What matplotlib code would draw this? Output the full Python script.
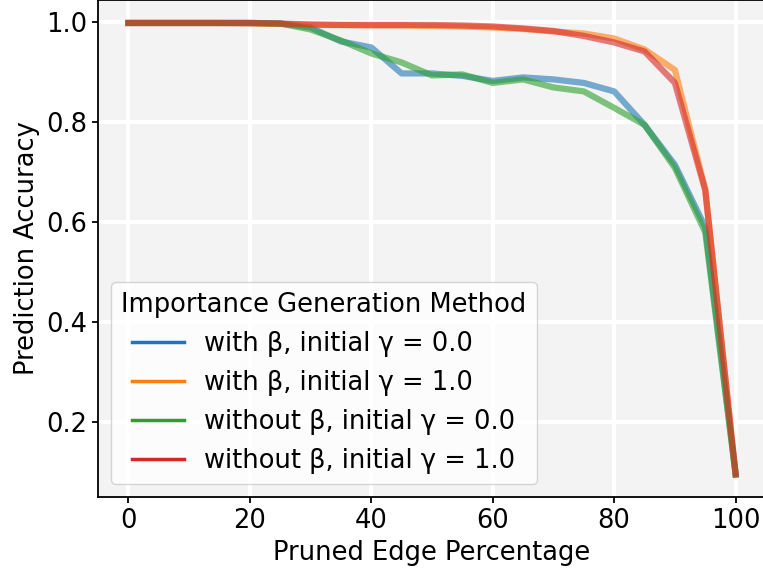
import numpy as np
import matplotlib
matplotlib.use("Agg")
import matplotlib.pyplot as plt
from matplotlib.lines import Line2D

# pruned edge percentage
pruned = [0, 5, 10, 15, 20, 25, 30, 35, 40, 45, 50, 55, 60, 65, 70, 75, 80, 85, 90, 95, 100]

with_b_g0 = [0.999, 0.999, 0.999, 0.999, 0.999, 0.998, 0.990, 0.962, 0.950, 0.898, 0.898, 0.893,
             0.883, 0.890, 0.886, 0.879, 0.862, 0.795, 0.715, 0.590, 0.097]
with_b_g1 = [0.999, 0.999, 0.999, 0.999, 0.998, 0.997, 0.995, 0.995, 0.994, 0.994, 0.993, 0.992,
             0.990, 0.987, 0.982, 0.978, 0.968, 0.946, 0.905, 0.666, 0.095]
without_b_g0 = [0.999, 0.999, 0.999, 0.999, 0.999, 0.998, 0.986, 0.964, 0.938, 0.920, 0.894, 0.896,
                0.879, 0.886, 0.870, 0.862, 0.829, 0.795, 0.709, 0.580, 0.095]
without_b_g1 = [0.999, 0.999, 0.999, 0.999, 0.999, 0.998, 0.996, 0.995, 0.995, 0.995, 0.995, 0.994,
                0.992, 0.988, 0.983, 0.973, 0.960, 0.942, 0.879, 0.664, 0.095]

labels = ["with β, initial γ = 0.0", "with β, initial γ = 1.0",
          "without β, initial γ = 0.0", "without β, initial γ = 1.0"]
colors = ["tab:blue", "tab:orange", "tab:green", "tab:red"]
series = [with_b_g0, with_b_g1, without_b_g0, without_b_g1]

fs = 18.5
fig = plt.figure(figsize=(7.63, 5.73), dpi=100)
ax = fig.add_axes([98 / 763, (573 - 497) / 573, 668 / 763, 497 / 573])
ax.set_facecolor("#f3f3f3")
ax.grid(True, color="white", linewidth=3)
ax.set_axisbelow(True)
for sp in ax.spines.values():
    sp.set_linewidth(1.3)

for s, c in zip(series, colors):
    ax.plot(pruned, s, color=c, linewidth=4.5, alpha=0.6)

ax.set_xlim(-5, 105)
ax.set_ylim(0.05, 1.045)
ax.set_xticks([0, 20, 40, 60, 80, 100])
ax.set_yticks([0.2, 0.4, 0.6, 0.8, 1.0])
ax.tick_params(labelsize=fs, length=4.5, width=1.3)
ax.set_xlabel("Pruned Edge Percentage", fontsize=fs)
ax.set_ylabel("Prediction Accuracy", fontsize=fs)

handles = [Line2D([0], [0], color=c, linewidth=2.5) for c in colors]
ax.legend(handles, labels, title="Importance Generation Method", fontsize=fs,
          title_fontsize=fs, loc="lower left", bbox_to_anchor=(0.0, 0.0))

fig.savefig("out.png", dpi=100)
